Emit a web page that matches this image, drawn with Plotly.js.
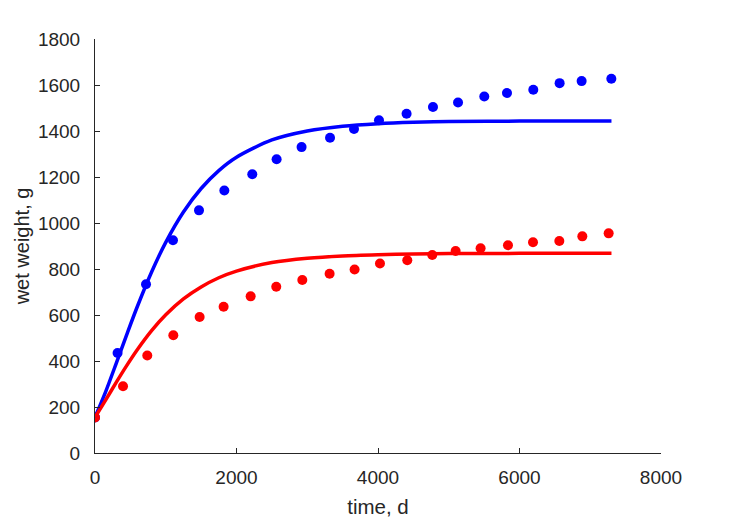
<!DOCTYPE html>
<html>
<head>
<meta charset="utf-8">
<script src="https://cdn.plot.ly/plotly-3.0.1.min.js"></script>
<style>html,body{margin:0;padding:0;background:#fff;}#chart{width:729px;height:521px;}</style>
</head>
<body>
<div id="chart"></div>
<script>
// Observed data (time in days, wet weight in g)
const blueObsT = [0, 319, 721, 1102, 1470, 1828, 2223, 2567, 2920, 3322, 3661, 4014, 4404, 4777, 5131, 5502, 5823, 6195, 6567, 6878, 7298];
const blueObsW = [154, 435, 734, 925, 1055, 1141, 1212, 1277, 1330, 1371, 1409, 1447, 1475, 1504, 1524, 1550, 1565, 1579, 1608, 1617, 1627];
const redObsT = [0, 396, 739, 1107, 1479, 1818, 2200, 2562, 2930, 3316, 3669, 4028, 4414, 4767, 5097, 5450, 5837, 6191, 6563, 6888, 7260];
const redObsW = [154, 290, 424, 512, 591, 636, 681, 723, 752, 779, 798, 824, 838, 861, 878, 890, 903, 916, 922, 942, 955];

// Fitted curves
const fitT = [0, 150, 300, 450, 600, 800, 1000, 1250, 1500, 1750, 2000, 2500, 3000, 3500, 4000, 4500, 5000, 6000, 7300];
const blueFitW = [155, 266, 390, 516, 638, 787, 916, 1048, 1150, 1228, 1286, 1361, 1400, 1421, 1432, 1438, 1441, 1443, 1444];
const redFitW = [155, 230, 307, 381, 450, 532, 601, 670, 722, 762, 791, 828, 847, 857, 862, 865, 867, 868, 868];

const xTicks = [0, 2000, 4000, 6000, 8000];
const yTicks = [0, 200, 400, 600, 800, 1000, 1200, 1400, 1600, 1800];
const xLabel = 'time, d';
const yLabel = 'wet weight, g';

const BLUE = '#0000ff', RED = '#ff0000', INK = '#262626';
const FONT = 'Liberation Sans, Arial, Helvetica, sans-serif';

const traces = [
  {x: blueObsT, y: blueObsW, mode: 'markers', type: 'scatter', marker: {color: BLUE, size: 10}, hoverinfo: 'skip'},
  {x: redObsT, y: redObsW, mode: 'markers', type: 'scatter', marker: {color: RED, size: 10}, hoverinfo: 'skip'},
  {x: fitT, y: blueFitW, mode: 'lines', type: 'scatter', line: {color: BLUE, width: 3.5, shape: 'spline', smoothing: 0.8}, hoverinfo: 'skip'},
  {x: fitT, y: redFitW, mode: 'lines', type: 'scatter', line: {color: RED, width: 3.5, shape: 'spline', smoothing: 0.8}, hoverinfo: 'skip'}
];

const axisCommon = {
  showgrid: false, zeroline: false, showline: true, linecolor: INK, linewidth: 1,
  ticks: 'inside', ticklen: 5, tickwidth: 1, tickcolor: INK,
  tickfont: {family: FONT, size: 19, color: INK}, mirror: false
};

const layout = {
  width: 729, height: 521,
  margin: {l: 95, r: 68, t: 39, b: 68, pad: 0},
  paper_bgcolor: '#ffffff', plot_bgcolor: '#ffffff',
  showlegend: false,
  font: {family: FONT, color: INK},
  xaxis: Object.assign({}, axisCommon, {
    range: [0, 8000], tickvals: xTicks, ticktext: xTicks.map(String),
    ticklabelstandoff: 7,
    title: {text: xLabel, font: {family: FONT, size: 20.5, color: INK}, standoff: 12}
  }),
  yaxis: Object.assign({}, axisCommon, {
    range: [0, 1800], tickvals: yTicks, ticktext: yTicks.map(String),
    ticklabelstandoff: 10,
    title: {text: yLabel, font: {family: FONT, size: 20, color: INK}, standoff: 2}
  })
};

Plotly.newPlot('chart', traces, layout, {staticPlot: true, displayModeBar: false});
</script>
</body>
</html>
